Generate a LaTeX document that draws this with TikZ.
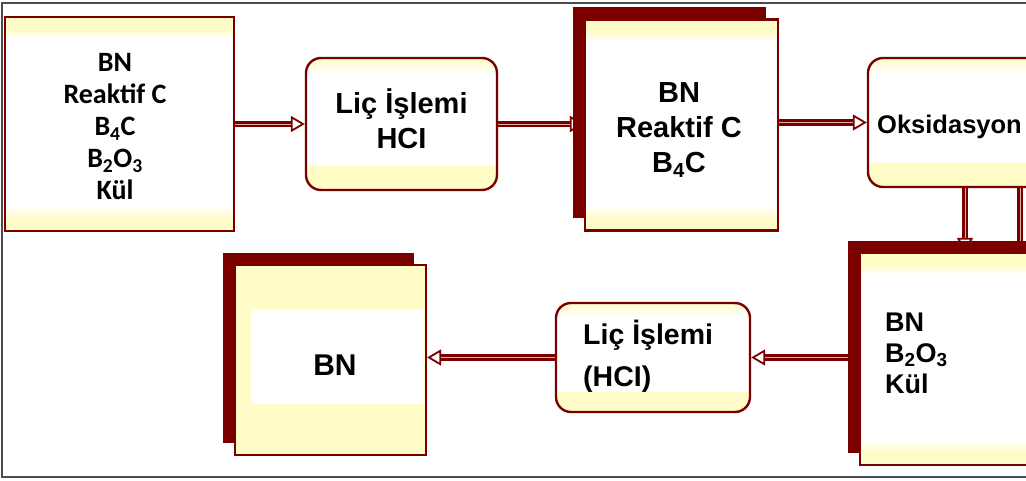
\documentclass[tikz,border=0pt]{standalone}
\usepackage{fontspec}
\setmainfont{Liberation Sans}
\newfontfamily\calfont{Carlito}
\usetikzlibrary{arrows.meta,shadows,backgrounds}
\definecolor{dred}{RGB}{122,0,0}
\definecolor{cream}{RGB}{255,252,200}
\definecolor{pinkline}{RGB}{230,170,170}
\pgfdeclareverticalshading{bandA}{100bp}{color(0bp)=(cream); color(28bp)=(cream); color(31bp)=(white); color(70bp)=(white); color(72bp)=(cream); color(100bp)=(cream)}
\pgfdeclareverticalshading{bandB}{100bp}{color(0bp)=(cream); color(25bp)=(cream); color(34bp)=(cream); color(35bp)=(white); color(69bp)=(white); color(75bp)=(cream); color(100bp)=(cream)}
\tikzset{
  sqbox/.style={draw=dred, line width=2.2pt, shade, shading=bandA, inner sep=0pt},
  rndbox/.style={draw=dred, line width=2.4pt, rounded corners=15pt, shade, shading=bandB, inner sep=0pt},
  shadowbox/.style={sqbox, drop shadow={shadow xshift=-12pt, shadow yshift=12pt, fill=dred, opacity=1}},
  creambox/.style={draw=dred, line width=2.2pt, fill=cream, inner sep=0pt,
    drop shadow={shadow xshift=-12pt, shadow yshift=12pt, fill=dred, opacity=1}},
  arial/.style={font=\fontsize{29}{35}\selectfont\bfseries},
  conn/.style={draw=dred, line width=6.5pt,
    -{Triangle[length=14pt, width=16pt, fill=white, line width=1.8pt]},
    postaction={draw=pinkline, line width=0.9pt, shorten >=14pt, -}},
  connplain/.style={draw=dred, line width=6.5pt, postaction={draw=pinkline, line width=0.9pt}},
}
\begin{document}
\begin{tikzpicture}[x=1pt, y=-1pt]
\useasboundingbox (0,0) rectangle (1026,481);
\clip (0,0) rectangle (1026,481);
\draw[black!70, line width=1.2pt] (2,3) rectangle (1060,477);
% top row
\node[sqbox, minimum width=229pt, minimum height=214pt] (b1) at (119.5,124) {};
\node[align=center, font=\calfont\fontsize{28}{32}\selectfont\bfseries] (t1) at (115,127)
  {BN\\Reaktif C\\B\textsubscript{4}C\\B\textsubscript{2}O\textsubscript{3}\\Kül};
\node[rndbox, minimum width=191pt, minimum height=132pt] (b2) at (401.5,124) {};
\node[align=center, arial] (t2) at (401.5,119) {Liç İşlemi\\HCI};
\node[shadowbox, minimum width=193pt, minimum height=211pt] (b3) at (681.5,125) {};
\node[align=center, arial] (t3) at (679,130) {BN\\Reaktif C\\B\textsubscript{4}C};
\node[rndbox, minimum width=200pt, minimum height=129pt] (b4) at (968,122.5) {};
\node[anchor=west, inner sep=0pt, font=\fontsize{25.5}{30}\selectfont\bfseries] (t4) at (877,127) {Oksidasyon};
% bottom row
\node[shadowbox, minimum width=210pt, minimum height=212pt] (b5) at (965,359) {};
\node[anchor=west, align=left, inner sep=0pt, font=\fontsize{27}{31}\selectfont\bfseries] (t5) at (885,353)
  {BN\\B\textsubscript{2}O\textsubscript{3}\\Kül};
\node[rndbox, minimum width=194pt, minimum height=109pt] (b6) at (653,357.5) {};
\node[anchor=west, align=left, inner sep=0pt, font=\fontsize{28.5}{42}\selectfont\bfseries] (t6) at (583,356)
  {Liç İşlemi\\(HCI)};
\node[creambox, minimum width=191pt, minimum height=190pt] (b7) at (330.5,360) {};
\fill[white] (251,309) rectangle (424,404);
\node[font=\fontsize{30}{34}\selectfont\bfseries] (t7) at (335,365) {BN};
\coordinate (r1) at (1020,243);
\begin{scope}[on background layer]
\draw[conn] (b1.east) -- (b2.west);
\draw[conn] (b2.east) -- (b2.east -| b3.west);
\draw[conn] (b3.east |- b4.west) -- (b4.west);
\draw[conn] (b4.south -| b5.north) -- (b5.north);
\draw[connplain] (b4.south -| r1) -- (r1);
\draw[conn] (b5.west |- b6.east) -- (b6.east);
\draw[conn] (b6.west) -- (b6.west -| b7.east);
\end{scope}
\end{tikzpicture}
\end{document}
